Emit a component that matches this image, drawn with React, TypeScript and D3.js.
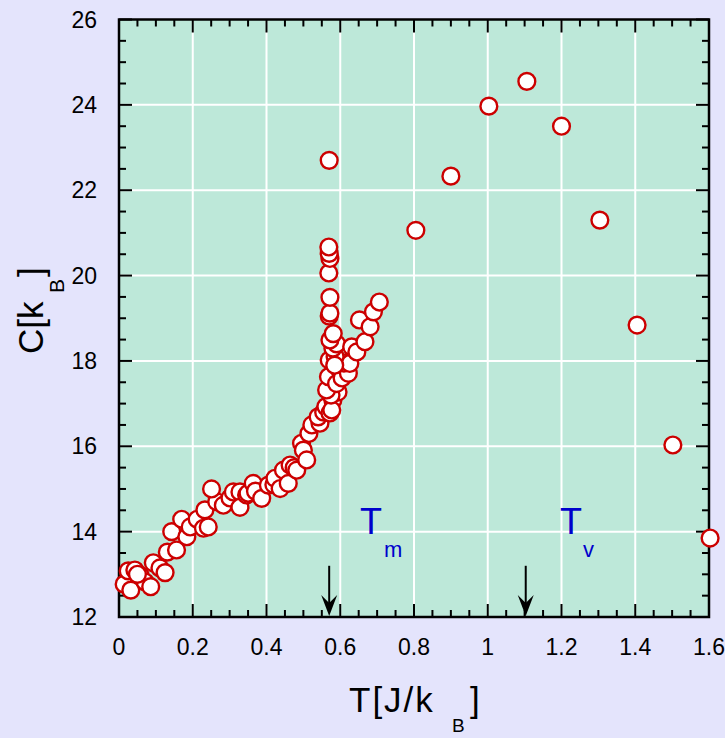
import React from "react";
import * as d3 from "d3";

// Low-temperature cluster (T, C)
const tCluster = [0.014,0.032,0.025,0.043,0.057,0.071,0.086,0.05,0.093,0.111,0.125,0.131,0.156,0.143,0.170,0.184,0.193,0.212,0.229,0.242,0.233,0.265,0.283,0.301,0.251,0.310,0.328,0.328,0.346,0.35,0.364,0.37,0.387,0.405,0.42,0.423,0.437,0.446,0.464,0.459,0.475,0.482,0.495,0.500,0.509,0.515,0.523,0.545,0.540,0.555,0.561,0.572,0.580,0.594,0.577,0.575,0.563,0.568,0.590,0.599,0.605,0.622,0.61,0.626,0.570,0.586,0.585,0.58,0.59,0.572,0.581,0.631,0.645,0.667,0.570,0.572,0.572,0.652,0.681,0.690,0.706,0.569,0.572,0.570,0.569];
const cCluster = [12.77,12.63,13.08,13.10,12.98,12.82,12.71,13.0,13.27,13.15,13.04,13.52,13.57,14.00,14.29,13.88,14.11,14.29,14.08,14.11,14.51,14.70,14.62,14.79,15.00,14.93,14.93,14.57,14.86,14.9,15.13,14.95,14.78,15.09,15.1,15.25,15.01,15.44,15.56,15.13,15.5,15.44,16.07,15.91,15.68,16.3,16.50,16.54,16.69,16.8,16.93,16.78,17.08,17.27,16.85,17.2,17.32,17.63,17.47,17.78,17.6,17.71,17.95,17.94,18.02,18.10,17.9,18.3,18.4,18.49,18.64,18.33,18.21,18.45,19.05,19.12,19.49,18.96,18.80,19.15,19.38,20.06,20.40,20.52,20.67];

// Higher-temperature points
const tHigh = [0.57,0.805,0.90,1.003,1.106,1.20,1.304,1.405,1.502,1.603];
const cHigh = [22.70,21.06,22.33,23.97,24.55,23.50,21.30,18.84,16.03,13.85];

const xTicks = [0, 0.2, 0.4, 0.6, 0.8, 1, 1.2, 1.4, 1.6];
const yTicks = [12, 14, 16, 18, 20, 22, 24, 26];
const xTickLabels = ["0", "0.2", "0.4", "0.6", "0.8", "1", "1.2", "1.4", "1.6"];
const yTickLabels = ["12", "14", "16", "18", "20", "22", "24", "26"];

const arrowsT = [0.57, 1.103];
const arrowTop = 13.2;

const W = 725, H = 738;
const L = 119, R = 709, T = 19.5, B = 617;
const FONT = "'Liberation Sans', Arial, sans-serif";

export default function App() {
  const x = d3.scaleLinear().domain([0, 1.6]).range([L, R]);
  const y = d3.scaleLinear().domain([12, 26]).range([B, T]);

  const xMinor = d3.range(0, 1.6001, 0.05).filter((v) => Math.abs(v / 0.2 - Math.round(v / 0.2)) > 1e-6);
  const yMinor = d3.range(12, 26.001, 0.5).filter((v) => Math.abs(v / 2 - Math.round(v / 2)) > 1e-6);

  const pts = [
    ...tCluster.map((t, i) => [t, cCluster[i]]),
    ...tHigh.map((t, i) => [t, cHigh[i]]),
  ];

  const red = "#CC0000";
  const blue = "#0000CC";

  return (
    <svg width={W} height={H} style={{ position: "absolute", left: 0, top: 0, display: "block" }} fontFamily={FONT}>
      <rect x={0} y={0} width={W} height={H} fill="#E4E4FC" />
      <rect x={L} y={T} width={R - L} height={B - T} fill="#BDE8D9" />
      {/* grid */}
      {xTicks.slice(1, -1).map((v) => (
        <line key={"gx" + v} x1={x(v)} x2={x(v)} y1={T} y2={B} stroke="#fff" strokeWidth={2} />
      ))}
      {yTicks.slice(1, -1).map((v) => (
        <line key={"gy" + v} x1={L} x2={R} y1={y(v)} y2={y(v)} stroke="#fff" strokeWidth={2} />
      ))}
      {/* ticks */}
      {xTicks.map((v) => (
        <g key={"tx" + v}>
          <line x1={x(v)} x2={x(v)} y1={B} y2={B - 13} stroke="#000" strokeWidth={2} />
          <line x1={x(v)} x2={x(v)} y1={T} y2={T + 13} stroke="#000" strokeWidth={2} />
        </g>
      ))}
      {xMinor.map((v) => (
        <g key={"mx" + v}>
          <line x1={x(v)} x2={x(v)} y1={B} y2={B - 7} stroke="#000" strokeWidth={2} />
          <line x1={x(v)} x2={x(v)} y1={T} y2={T + 7} stroke="#000" strokeWidth={2} />
        </g>
      ))}
      {yTicks.map((v) => (
        <g key={"ty" + v}>
          <line x1={L} x2={L + 13} y1={y(v)} y2={y(v)} stroke="#000" strokeWidth={2} />
          <line x1={R} x2={R - 13} y1={y(v)} y2={y(v)} stroke="#000" strokeWidth={2} />
        </g>
      ))}
      {yMinor.map((v) => (
        <g key={"my" + v}>
          <line x1={L} x2={L + 7} y1={y(v)} y2={y(v)} stroke="#000" strokeWidth={2} />
          <line x1={R} x2={R - 7} y1={y(v)} y2={y(v)} stroke="#000" strokeWidth={2} />
        </g>
      ))}
      {/* arrows */}
      {arrowsT.map((t) => {
        const ax = x(t);
        const tip = y(12) - 1;
        return (
          <g key={"ar" + t}>
            <line x1={ax} x2={ax} y1={y(arrowTop)} y2={tip - 10} stroke="#000" strokeWidth={2} />
            <polygon points={`${ax},${tip} ${ax - 8},${tip - 21} ${ax},${tip - 13} ${ax + 8},${tip - 21}`} fill="#000" />
          </g>
        );
      })}
      {/* frame */}
      <rect x={L} y={T} width={R - L} height={B - T} fill="none" stroke="#000" strokeWidth={2.5} />
      {/* points */}
      {pts.map(([t, c], i) => (
        <circle key={i} cx={x(t)} cy={y(c)} r={8.4} fill="#fff" stroke={red} strokeWidth={2.4} />
      ))}
      {/* tick labels */}
      {xTicks.map((v, i) => (
        <text key={"lx" + v} x={x(v)} y={655} fontSize={23} textAnchor="middle" fill="#000">
          {xTickLabels[i]}
        </text>
      ))}
      {yTicks.map((v, i) => (
        <text key={"ly" + v} x={97} y={y(v) + 8} fontSize={23} textAnchor="end" fill="#000">
          {yTickLabels[i]}
        </text>
      ))}
      {/* annotations */}
      <text x={360} y={534} fontSize={36} fill={blue}>T</text>
      <text x={384} y={557} fontSize={22} fill={blue}>m</text>
      <text x={560} y={534} fontSize={36} fill={blue}>T</text>
      <text x={583} y={557} fontSize={22} fill={blue}>v</text>
      {/* x label */}
      <text x={349} y={712} fontSize={35} fill="#000" letterSpacing={2}>T[J/k</text>
      <text x={452} y={732} fontSize={19} fill="#000">B</text>
      <text x={470} y={712} fontSize={35} fill="#000">]</text>
      {/* y label */}
      <text transform="translate(43,354) rotate(-90)" fontSize={35} fill="#000">C[k</text>
      <text transform="translate(64,293) rotate(-90)" fontSize={21} fill="#000">B</text>
      <text transform="translate(43,277) rotate(-90)" fontSize={35} fill="#000">]</text>
    </svg>
  );
}
